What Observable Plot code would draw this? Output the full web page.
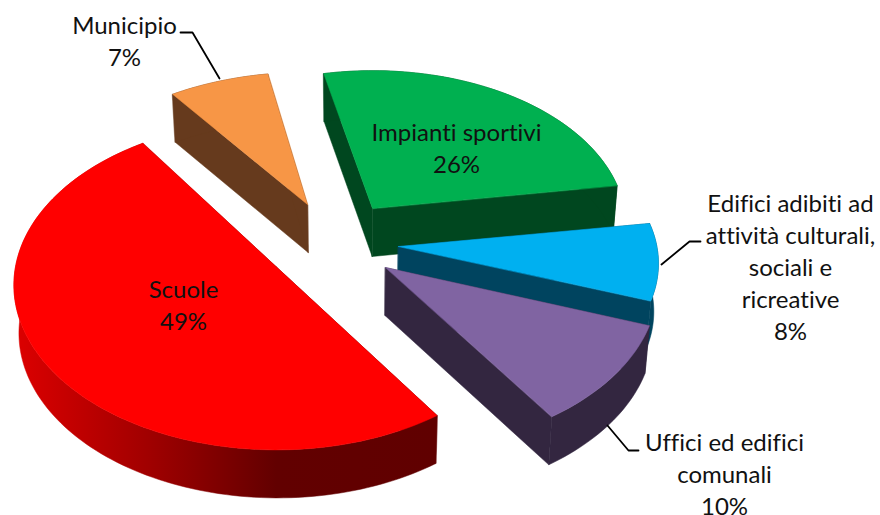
<!DOCTYPE html>
<html><head><meta charset="utf-8">
<style>html,body{margin:0;padding:0;background:#fff}svg{display:block}</style>
<script src="https://cdn.jsdelivr.net/npm/d3@7"></script>
<script src="https://cdn.jsdelivr.net/npm/@observablehq/plot@0.6"></script>
</head><body><div id="chart"></div>
<script>
const categories = ["Scuole", "Municipio", "Impianti sportivi", "Edifici adibiti ad\nattività culturali,\nsociali e\nricreative", "Uffici ed edifici\ncomunali"];
const shares = [49, 7, 26, 8, 10];
const topColors = ["#ff0000", "#f79646", "#00b050", "#00b0f0", "#8064a2"];
const sideColors = ["#620000", "#663a1d", "#00471f", "#00445f", "#332640"];
const wallFills = ["url(#wallRed)", "#663a1d", "#00471f", "#00445f", "#332640"];

// Layout of the exploded, tilted pie (separate from the data)
const apexes = [[276, 266.5], [307, 204], [372, 208], [398, 246], [385, 267]];
const radiusX = [0.985, 0.965, 0.95, 0.975, 1.02];
const radiusY = [1.064, 0.96, 1.0, 1, 1.07];
const angleFit = [[0, 3.6], [2.5, 2.5], [0, 0], [0, 0], [0, 0]]; // perspective correction, degrees
const drawOrder = [1, 2, 3, 4, 0];
const labelAt = [[183, 292], [124, 28], [456, 135], [790, 206], [724, 445]];
const leaders = [null, [[180, 32], [192, 32], [219, 78]], null, [[700, 241], [689, 241], [661, 264]], [[607, 425], [628, 450], [638, 450]]];
const RX = 265, RY = 153, TILT = 0.11, DEPTH = 48, VANISH = 350, TAPER = 0.985;
const DEG = Math.PI / 180;

const arcs = d3.pie().sort(null).startAngle(146 * DEG).endAngle((146 + 360) * DEG)(shares);

function project(i, a) {
  const c = Math.cos(a), s = 1 / (1 + TILT * c);
  return [apexes[i][0] + RX * radiusX[i] * Math.sin(a) * s, apexes[i][1] - RY * radiusY[i] * c * s];
}
const drop = ([x, y]) => [VANISH + (x - VANISH) * TAPER, y + DEPTH];
const poly = (pts, fill) => Plot.line(pts, {x: d => d[0], y: d => d[1], fill, stroke: fill, strokeWidth: 0.5, curve: "linear-closed"});

const marks = [() => {
  const defs = d3.create("svg:defs");
  defs.html(`<linearGradient id="wallRed" x1="0" x2="1" y1="0" y2="0">
    <stop offset="0" stop-color="#dd0000"/><stop offset="0.32" stop-color="#a00000"/>
    <stop offset="0.62" stop-color="#620000"/><stop offset="1" stop-color="#600000"/></linearGradient>`);
  return defs.node();
}];

for (const i of drawOrder) {
  const a0 = arcs[i].startAngle + angleFit[i][0] * DEG;
  const a1 = arcs[i].endAngle + angleFit[i][1] * DEG;
  const steps = Math.ceil((a1 - a0) * 40);
  const arc = d3.range(steps + 1).map(k => project(i, a0 + (a1 - a0) * k / steps));
  const apex = apexes[i];
  const first = arc[0], last = arc[arc.length - 1];
  marks.push(poly([apex, first, drop(first), drop(apex)], sideColors[i]));
  marks.push(poly([apex, last, drop(last), drop(apex)], sideColors[i]));
  marks.push(poly([...arc, ...arc.map(drop).reverse()], wallFills[i]));
  marks.push(poly([apex, ...arc], topColors[i]));
}

leaders.forEach(l => { if (l) marks.push(Plot.line(l, {x: d => d[0], y: d => d[1], stroke: "#000", strokeWidth: 1.8})); });

marks.push(Plot.text(categories.map((c, i) => ({c: c + "\n" + shares[i] + "%", p: labelAt[i]})), {
  x: d => d.p[0], y: d => d.p[1] - 17, text: "c", lineAnchor: "top",
  textAnchor: "middle", fill: "#111", lineHeight: 1.333
}));

const chart = Plot.plot({
  width: 880, height: 515, margin: 0,
  x: {domain: [0, 880], range: [0, 880], axis: null},
  y: {domain: [0, 515], range: [0, 515], axis: null},
  style: {background: "#fff", fontFamily: "Lato, sans-serif", fontSize: "24px", fontVariantLigatures: "none"},
  marks
});
document.getElementById("chart").append(chart);
</script></body></html>
